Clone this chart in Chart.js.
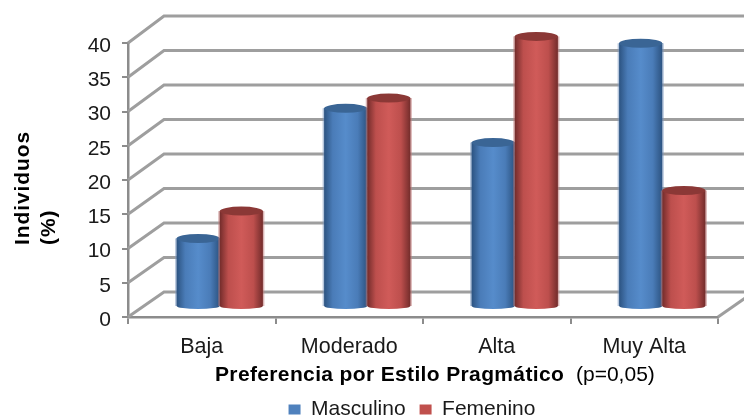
<!DOCTYPE html>
<html>
<head>
<meta charset="utf-8">
<title>Preferencia por Estilo Pragmático</title>
<script src="https://cdn.jsdelivr.net/npm/chart.js@4"></script>
<style>
  html, body { margin: 0; padding: 0; background: #fff; }
  #wrap { width: 744px; height: 417px; overflow: hidden; }
</style>
</head>
<body>
<div id="wrap"><canvas id="grafico" width="744" height="417"></canvas></div>
<script>
const categorias = ["Baja", "Moderado", "Alta", "Muy Alta"];
const masculino = [10, 29, 24, 38.5];
const femenino = [14, 30.5, 39.5, 17];
const ticksY = [0, 5, 10, 15, 20, 25, 30, 35, 40];

const FUENTE = '"Liberation Sans", Arial, sans-serif';
const GRIS = "#8c8c8c";

// colores del cilindro: borde, centro, tapa, halo
const tonos = [
  { borde: "#2c5381", medio: "#568ccb", claro: "#4a7cb8", tapa: "#3a6595", halo: "rgba(120,150,190,0.55)" },
  { borde: "#732c2b", medio: "#d05b59", claro: "#bd4f4d", tapa: "#8b3836", halo: "rgba(190,120,120,0.55)" },
];

function dibujarCilindro(ctx, barra, tono, dx, dy) {
  const ancho = barra.width;
  const izq = barra.x - ancho / 2 + dx;
  const der = izq + ancho;
  const cx = izq + ancho / 2;
  const arriba = barra.y + dy;
  const abajo = barra.base + dy;

  ctx.fillStyle = tono.halo;
  ctx.fillRect(izq - 1.5, arriba, ancho + 3, abajo - arriba);

  const grad = ctx.createLinearGradient(izq, 0, der, 0);
  grad.addColorStop(0, tono.borde);
  grad.addColorStop(0.2, tono.claro);
  grad.addColorStop(0.5, tono.medio);
  grad.addColorStop(0.78, tono.claro);
  grad.addColorStop(1, tono.borde);

  // cuerpo con base curva
  ctx.beginPath();
  ctx.moveTo(izq, arriba);
  ctx.lineTo(izq, abajo);
  ctx.ellipse(cx, abajo, ancho / 2, 3, 0, Math.PI, 0, true);
  ctx.lineTo(der, arriba);
  ctx.closePath();
  ctx.fillStyle = grad;
  ctx.fill();

  // tapa
  ctx.beginPath();
  ctx.ellipse(cx, arriba, ancho / 2, 4.5, 0, 0, Math.PI * 2);
  ctx.fillStyle = tono.tapa;
  ctx.fill();
}

const cilindros3d = {
  id: "cilindros3d",
  afterLayout(chart) {
    // la leyenda va centrada bajo el título del eje X
    chart.legend.left += 53;
    chart.legend.right += 53;
  },
  afterUpdate(chart) {
    // los números del eje Y van un poco por debajo de su marca
    chart.scales.y.getLabelItems().forEach((item) => {
      item.options.translation[1] += 3;
    });
  },
  beforeDatasetsDraw(chart) {
    const { ctx, scales } = chart;
    const y = scales.y;
    const izq = scales.x.left;
    const der = scales.x.right;
    const fondoX = 36;

    ctx.save();
    ctx.lineWidth = 3;
    ctx.strokeStyle = "#9e9e9e";
    ticksY.forEach((v) => {
      const py = y.getPixelForValue(v);
      const fondoY = py - 25 - v / 20;
      // pared lateral y pared de fondo
      ctx.beginPath();
      ctx.moveTo(izq, py);
      ctx.lineTo(izq + fondoX, fondoY);
      ctx.lineTo(chart.width + 10, fondoY);
      ctx.stroke();
    });

    // borde derecho del piso
    const y0 = y.getPixelForValue(0);
    ctx.beginPath();
    ctx.moveTo(der, y0);
    ctx.lineTo(der + fondoX, y0 - 25);
    ctx.stroke();

    chart.data.datasets.forEach((ds, i) => {
      chart.getDatasetMeta(i).data.forEach((barra) => {
        dibujarCilindro(ctx, barra, tonos[i], 18, -10);
      });
    });
    ctx.restore();
    return false;
  },
};

// títulos de los ejes: el de X lleva dos pesos de letra, el de Y va alineado abajo
const titulosEjes = {
  id: "titulosEjes",
  afterDraw(chart) {
    const { ctx } = chart;
    ctx.save();
    ctx.fillStyle = "#000";
    ctx.textBaseline = "alphabetic";
    ctx.textAlign = "left";
    ctx.font = "bold 21px " + FUENTE;
    ctx.letterSpacing = "0.36px";
    ctx.fillText("Preferencia por Estilo Pragmático", 215, 381);
    ctx.letterSpacing = "0px";
    ctx.font = "21px " + FUENTE;
    ctx.fillText("(p=0,05)", 576, 381);

    ctx.font = "bold 21px " + FUENTE;
    ctx.letterSpacing = "0.9px";
    ctx.translate(29, 245);
    ctx.rotate(-Math.PI / 2);
    ctx.fillText("Individuos", 0, 0);
    ctx.fillText("(%)", 0, 26);
    ctx.restore();
  },
};

new Chart(document.getElementById("grafico"), {
  type: "bar",
  data: {
    labels: categorias,
    datasets: [
      { label: "Masculino", data: masculino, backgroundColor: "#4f81bd" },
      { label: "Femenino", data: femenino, backgroundColor: "#c0504d" },
    ],
  },
  options: {
    responsive: false,
    animation: false,
    events: [],
    categoryPercentage: 0.585,
    barPercentage: 1,
    layout: { padding: { left: 0, right: 26, top: 43, bottom: -13 } },
    plugins: {
      tooltip: { enabled: false },
      legend: {
        position: "bottom",
        labels: {
          boxWidth: 12,
          boxHeight: 10,
          padding: 14,
          color: "#1a1a1a",
          font: { family: FUENTE, size: 21 },
        },
      },
    },
    scales: {
      x: {
        afterFit(scale) { scale.height = 68; },
        border: { color: GRIS, width: 2.5 },
        grid: { drawOnChartArea: false, color: GRIS, tickLength: 7, lineWidth: 2 },
        ticks: { color: "#1a1a1a", padding: 10, maxRotation: 0, font: { family: FUENTE, size: 21.5 } },
      },
      y: {
        min: 0,
        max: 40,
        afterFit(scale) { scale.width = 128; },
        afterBuildTicks(scale) { scale.ticks = ticksY.map((value) => ({ value })); },
        border: { color: GRIS, width: 2.5 },
        grid: { drawOnChartArea: false, color: GRIS, tickLength: 6, lineWidth: 2 },
        ticks: { color: "#1a1a1a", padding: 11, font: { family: FUENTE, size: 21 } },
      },
    },
  },
  plugins: [cilindros3d, titulosEjes],
});
</script>
</body>
</html>
